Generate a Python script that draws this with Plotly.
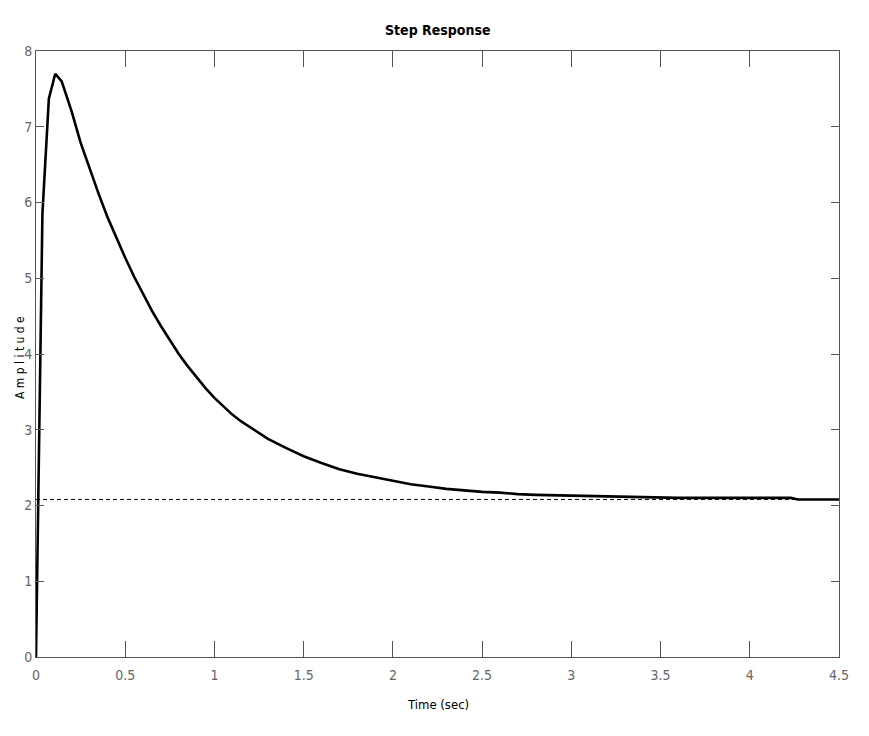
import plotly.graph_objects as go

# Step response samples (time in sec, amplitude)
time_s = [0, 0.036, 0.072, 0.108, 0.144, 0.2, 0.25, 0.3, 0.35, 0.4, 0.45, 0.5,
          0.55, 0.6, 0.65, 0.7, 0.75, 0.8, 0.85, 0.9, 0.95, 1.0, 1.05, 1.1, 1.15,
          1.2, 1.3, 1.4, 1.5, 1.6, 1.7, 1.8, 1.9, 2.0, 2.1, 2.2, 2.3, 2.4, 2.5,
          2.6, 2.7, 2.8, 3.0, 3.3, 3.6, 4.0, 4.23, 4.27, 4.5]
amplitude = [0, 5.85, 7.37, 7.70, 7.60, 7.20, 6.79, 6.45, 6.12, 5.81, 5.53, 5.27,
             5.02, 4.79, 4.57, 4.37, 4.18, 4.00, 3.84, 3.69, 3.55, 3.42, 3.31, 3.20,
             3.11, 3.03, 2.88, 2.76, 2.65, 2.56, 2.48, 2.42, 2.37, 2.32, 2.28, 2.25,
             2.22, 2.20, 2.18, 2.17, 2.15, 2.14, 2.13, 2.11, 2.10, 2.10, 2.10, 2.08,
             2.08]
steady_state = 2.08
x_range = [0, 4.5]
y_range = [0, 8]
x_ticks = [0, 0.5, 1, 1.5, 2, 2.5, 3, 3.5, 4, 4.5]
x_tick_labels = ["0", "0.5", "1", "1.5", "2", "2.5", "3", "3.5", "4", "4.5"]
y_ticks = [0, 1, 2, 3, 4, 5, 6, 7, 8]

FONT = "DejaVu Sans Condensed, Liberation Sans Narrow, sans-serif"
AXIS_COLOR = "#555555"

fig = go.Figure()
fig.add_trace(go.Scatter(x=x_range, y=[steady_state, steady_state], mode="lines",
                         line=dict(color="black", width=1, dash="4px,3px"),
                         hoverinfo="skip", showlegend=False))
fig.add_trace(go.Scatter(x=time_s, y=amplitude, mode="lines",
                         line=dict(color="black", width=2.6),
                         showlegend=False))

fig.update_xaxes(range=x_range, tickvals=x_ticks, ticktext=x_tick_labels,
                 showline=True, mirror="ticks", linecolor=AXIS_COLOR, linewidth=1,
                 ticks="inside", ticklen=16, tickcolor=AXIS_COLOR, tickwidth=1,
                 showgrid=False, zeroline=False, automargin=False,
                 ticklabelstandoff=5,
                 tickfont=dict(family=FONT, size=14, color="#666666"))
fig.update_yaxes(range=y_range, tickvals=y_ticks,
                 showline=True, mirror="ticks", linecolor=AXIS_COLOR, linewidth=1,
                 ticks="inside", ticklen=8, tickcolor=AXIS_COLOR, tickwidth=1,
                 showgrid=False, zeroline=False, ticklabelstandoff=0, automargin=False,
                 tickfont=dict(family=FONT, size=14, color="#666666"))

# page body has an 8px default margin, so the margins are offset by 8px
fig.update_layout(
    width=869, height=736,
    margin=dict(l=28, r=38, t=43, b=87),
    plot_bgcolor="white", paper_bgcolor="white",
    annotations=[
        dict(text="<b>Step Response</b>", x=0.5, y=1, xref="paper", yref="paper",
             xanchor="center", yanchor="bottom", yshift=11, showarrow=False,
             font=dict(family=FONT, size=14, color="black")),
        dict(text="Time (sec)", x=0.5, y=0, xref="paper", yref="paper",
             xanchor="center", yanchor="top", yshift=-38, showarrow=False,
             font=dict(family=FONT, size=13, color="black")),
        dict(text="A m p l i t u d e", x=0, y=0.5, xref="paper", yref="paper",
             xanchor="center", yanchor="middle", xshift=-16, yshift=-4,
             textangle=-90, showarrow=False,
             font=dict(family=FONT, size=12, color="black")),
    ],
)

fig.write_html("out.html")
